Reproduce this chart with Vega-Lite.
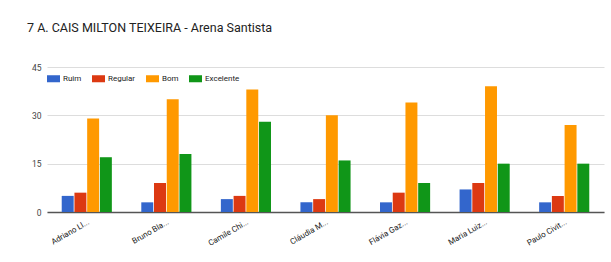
{
  "$schema": "https://vega.github.io/schema/vega-lite/v6.json",
  "autosize": {"type": "none"},
  "width": 557,
  "height": 145,
  "padding": {"left": 47, "top": 67, "right": 7, "bottom": 50},
  "background": "white",
  "title": {
    "text": "7 A. CAIS MILTON TEIXEIRA - Arena Santista",
    "anchor": "start",
    "frame": "group",
    "dx": -20,
    "offset": 19,
    "baseline": "alphabetic",
    "font": "Roboto",
    "fontSize": 12.5,
    "fontWeight": "normal",
    "color": "#222222"
  },
  "data": {
    "values": [
      {"nome": "Adriano Ll...", "avaliacao": "Ruim", "votos": 5},
      {"nome": "Adriano Ll...", "avaliacao": "Regular", "votos": 6},
      {"nome": "Adriano Ll...", "avaliacao": "Bom", "votos": 29},
      {"nome": "Adriano Ll...", "avaliacao": "Excelente", "votos": 17},
      {"nome": "Bruno Bla...", "avaliacao": "Ruim", "votos": 3},
      {"nome": "Bruno Bla...", "avaliacao": "Regular", "votos": 9},
      {"nome": "Bruno Bla...", "avaliacao": "Bom", "votos": 35},
      {"nome": "Bruno Bla...", "avaliacao": "Excelente", "votos": 18},
      {"nome": "Camile Chi...", "avaliacao": "Ruim", "votos": 4},
      {"nome": "Camile Chi...", "avaliacao": "Regular", "votos": 5},
      {"nome": "Camile Chi...", "avaliacao": "Bom", "votos": 38},
      {"nome": "Camile Chi...", "avaliacao": "Excelente", "votos": 28},
      {"nome": "Cláudia M...", "avaliacao": "Ruim", "votos": 3},
      {"nome": "Cláudia M...", "avaliacao": "Regular", "votos": 4},
      {"nome": "Cláudia M...", "avaliacao": "Bom", "votos": 30},
      {"nome": "Cláudia M...", "avaliacao": "Excelente", "votos": 16},
      {"nome": "Flávia Gaz...", "avaliacao": "Ruim", "votos": 3},
      {"nome": "Flávia Gaz...", "avaliacao": "Regular", "votos": 6},
      {"nome": "Flávia Gaz...", "avaliacao": "Bom", "votos": 34},
      {"nome": "Flávia Gaz...", "avaliacao": "Excelente", "votos": 9},
      {"nome": "Maria Luiz...", "avaliacao": "Ruim", "votos": 7},
      {"nome": "Maria Luiz...", "avaliacao": "Regular", "votos": 9},
      {"nome": "Maria Luiz...", "avaliacao": "Bom", "votos": 39},
      {"nome": "Maria Luiz...", "avaliacao": "Excelente", "votos": 15},
      {"nome": "Paulo Civit...", "avaliacao": "Ruim", "votos": 3},
      {"nome": "Paulo Civit...", "avaliacao": "Regular", "votos": 5},
      {"nome": "Paulo Civit...", "avaliacao": "Bom", "votos": 27},
      {"nome": "Paulo Civit...", "avaliacao": "Excelente", "votos": 15}
    ]
  },
  "mark": {"type": "bar"},
  "encoding": {
    "x": {
      "field": "nome",
      "type": "nominal",
      "sort": null,
      "scale": {"paddingInner": 0.37, "paddingOuter": 0.185},
      "axis": {
        "title": null,
        "labelAngle": -30,
        "labelAlign": "right",
        "labelBaseline": "top",
        "labelPadding": 6,
        "labelFont": "Roboto",
        "labelFontSize": 8,
        "labelColor": "#222222",
        "ticks": false,
        "domain": true,
        "domainColor": "#555555",
        "domainWidth": 1.5,
        "grid": false
      }
    },
    "xOffset": {
      "field": "avaliacao",
      "type": "nominal",
      "sort": ["Ruim", "Regular", "Bom", "Excelente"],
      "scale": {"paddingInner": 0.06}
    },
    "y": {
      "field": "votos",
      "type": "quantitative",
      "scale": {"domain": [0, 45], "nice": false},
      "axis": {
        "title": null,
        "values": [0, 15, 30, 45],
        "domain": false,
        "ticks": false,
        "labelPadding": 6,
        "labelFont": "Roboto",
        "labelFontSize": 8.5,
        "labelColor": "#444444",
        "gridColor": "#dddddd",
        "gridWidth": 1
      }
    },
    "color": {
      "field": "avaliacao",
      "type": "nominal",
      "sort": ["Ruim", "Regular", "Bom", "Excelente"],
      "scale": {
        "domain": ["Ruim", "Regular", "Bom", "Excelente"],
        "range": ["#3366cc", "#dc3912", "#ff9900", "#109618"]
      },
      "legend": {
        "title": null,
        "orient": "none",
        "legendX": 0,
        "legendY": 5,
        "direction": "horizontal",
        "symbolType": "M-1,-0.54L1,-0.54L1,0.54L-1,0.54Z",
        "symbolSize": 169,
        "symbolStrokeWidth": 0,
        "labelFont": "Roboto",
        "labelFontSize": 8,
        "labelColor": "#222222",
        "labelOffset": 3,
        "columnPadding": 10,
        "padding": 0
      }
    }
  },
  "config": {
    "view": {"stroke": null}
  }
}
